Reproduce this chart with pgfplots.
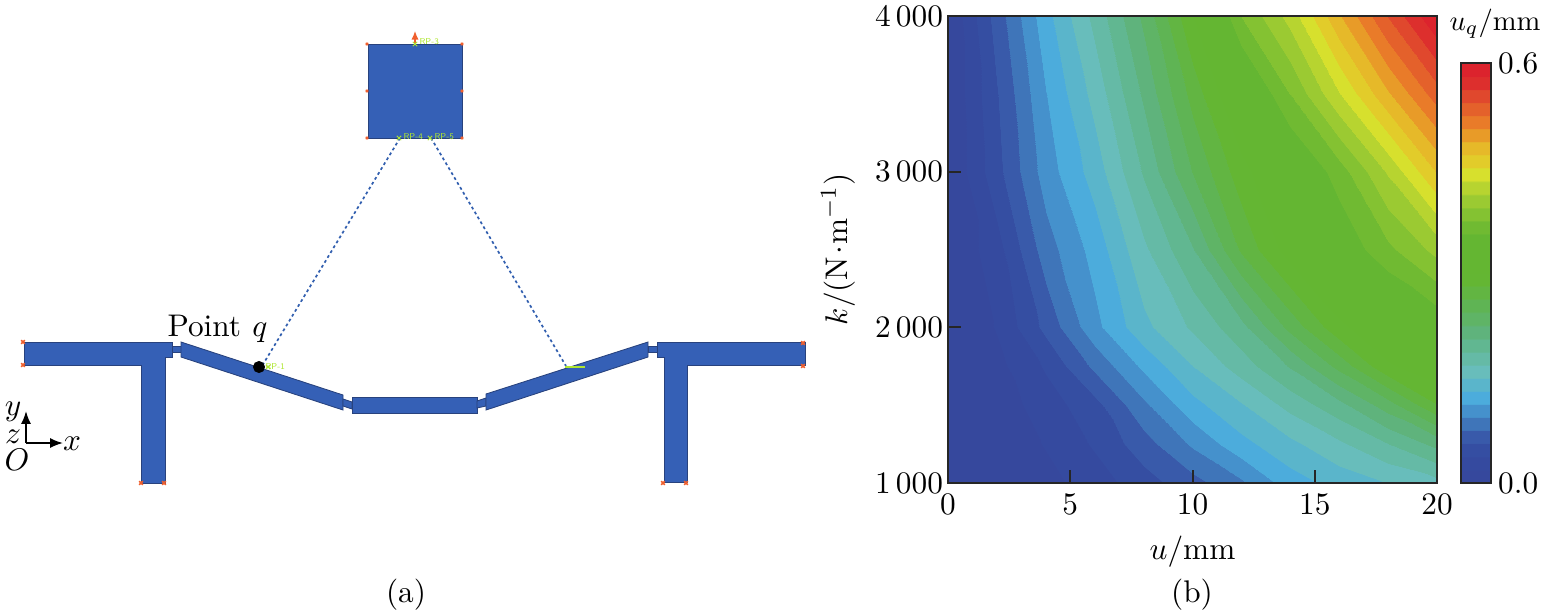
\documentclass[border=0pt]{standalone}
\usepackage{pgfplots}
\pgfplotsset{compat=1.18}
\usetikzlibrary{arrows.meta}
\pgfplotsset{colormap={bands}{
rgb255(0cm)=(54,72,157) rgb255(0.98cm)=(54,72,157)
rgb255(1cm)=(53,74,159) rgb255(1.98cm)=(53,74,159)
rgb255(2cm)=(53,78,162) rgb255(2.98cm)=(53,78,162)
rgb255(3cm)=(57,90,170) rgb255(3.98cm)=(57,90,170)
rgb255(4cm)=(63,117,185) rgb255(4.98cm)=(63,117,185)
rgb255(5cm)=(69,145,204) rgb255(5.98cm)=(69,145,204)
rgb255(6cm)=(76,172,220) rgb255(6.98cm)=(76,172,220)
rgb255(7cm)=(90,181,203) rgb255(7.98cm)=(90,181,203)
rgb255(8cm)=(104,189,187) rgb255(8.98cm)=(104,189,187)
rgb255(9cm)=(101,186,166) rgb255(9.98cm)=(101,186,166)
rgb255(10cm)=(97,183,145) rgb255(10.98cm)=(97,183,145)
rgb255(11cm)=(95,179,124) rgb255(11.98cm)=(95,179,124)
rgb255(12cm)=(95,180,102) rgb255(12.98cm)=(95,180,102)
rgb255(13cm)=(95,180,84) rgb255(13.98cm)=(95,180,84)
rgb255(14cm)=(98,181,66) rgb255(14.98cm)=(98,181,66)
rgb255(15cm)=(100,182,51) rgb255(15.98cm)=(100,182,51)
rgb255(16cm)=(100,182,50) rgb255(16.98cm)=(100,182,50)
rgb255(17cm)=(100,182,50) rgb255(17.98cm)=(100,182,50)
rgb255(18cm)=(100,182,50) rgb255(18.98cm)=(100,182,50)
rgb255(19cm)=(112,186,50) rgb255(19.98cm)=(112,186,50)
rgb255(20cm)=(132,194,50) rgb255(20.98cm)=(132,194,50)
rgb255(21cm)=(155,202,50) rgb255(21.98cm)=(155,202,50)
rgb255(22cm)=(183,212,48) rgb255(22.98cm)=(183,212,48)
rgb255(23cm)=(215,224,45) rgb255(23.98cm)=(215,224,45)
rgb255(24cm)=(226,204,42) rgb255(24.98cm)=(226,204,42)
rgb255(25cm)=(230,185,41) rgb255(25.98cm)=(230,185,41)
rgb255(26cm)=(232,155,40) rgb255(26.98cm)=(232,155,40)
rgb255(27cm)=(233,123,41) rgb255(27.98cm)=(233,123,41)
rgb255(28cm)=(228,97,43) rgb255(28.98cm)=(228,97,43)
rgb255(29cm)=(224,72,45) rgb255(29.98cm)=(224,72,45)
rgb255(30cm)=(221,47,45) rgb255(30.98cm)=(221,47,45)
rgb255(31cm)=(220,35,45) rgb255(32cm)=(220,35,45)
}}
\definecolor{partblue}{RGB}{53,96,182}
\definecolor{partedge}{RGB}{40,66,125}
\definecolor{wireblue}{RGB}{50,95,175}
\definecolor{bcorange}{RGB}{240,95,45}
\definecolor{rpgreen}{RGB}{175,230,50}
\newcommand{\lab}{\fontsize{10.95}{13}\selectfont}
\begin{document}
\begin{tikzpicture}[x=1pt,y=1pt]
\useasboundingbox (0,0) rectangle (542.5pt,214.9pt);
% schematic in image pixel coordinates
\begin{axis}[at={(0,0)},anchor=south west,scale only axis,width=542.5pt,height=214.9pt,
  xmin=0,xmax=1550,ymin=0,ymax=614,y dir=reverse,hide axis,clip=false]
\pgfplotsset{part/.style={draw=partedge,line width=0.3pt,fill=partblue}}
\addplot[part] coordinates {(24,342)(172,342)(172,357)(165,357)(165,483)(141,483)(141,365)(24,365)} --cycle;
\addplot[part] coordinates {(172,346)(181,346)(181,352)(172,352)} --cycle;
\addplot[part] coordinates {(181,342)(343,395)(343,410)(181,357)} --cycle;
\addplot[part] coordinates {(343,399)(352,402)(352,409)(343,406)} --cycle;
\addplot[part] coordinates {(352,397)(477,397)(477,413)(352,413)} --cycle;
\addplot[part] coordinates {(477,401)(486,398)(486,406)(477,408)} --cycle;
\addplot[part] coordinates {(486,394)(648,342)(648,357)(486,410)} --cycle;
\addplot[part] coordinates {(648,346)(657,346)(657,352)(648,352)} --cycle;
\addplot[part] coordinates {(657,342)(805,342)(805,365)(687,365)(687,482)(664,482)(664,357)(657,357)} --cycle;
\addplot[part] coordinates {(368,44)(462,44)(462,138)(368,138)} --cycle;
\addplot[wireblue,line width=0.6pt,dash pattern=on 1pt off 1pt] coordinates {(400,138)(262,366)};
\addplot[wireblue,line width=0.6pt,dash pattern=on 1pt off 1pt] coordinates {(431,138)(566,366)};
\addplot[only marks,mark=x,mark size=0.9pt,bcorange,line width=0.6pt] coordinates {(23,342)(23,365)(141,483)(164,483)(663,483)(686,483)(803,343)(803,366)};
\addplot[only marks,mark=x,mark size=0.6pt,bcorange,line width=0.4pt] coordinates {(367,44)(462,44)(367,91)(462,91)(367,138)(462,138)};
\addplot[bcorange,line width=0.4pt,-{Latex[length=3pt,width=2.5pt]}] coordinates {(415,44)(415,31)};
\addplot[only marks,mark=x,mark size=1.1pt,rpgreen,line width=0.3pt] coordinates {(399,138)(430,138)(415,44)(268,367)};
\addplot[rpgreen,line width=0.9pt] coordinates {(565,367)(585,367)};
\node[rpgreen,font=\sffamily\fontsize{3}{3}\selectfont,anchor=west,inner sep=0pt] at (axis cs:403,137) {RP-4};
\node[rpgreen,font=\sffamily\fontsize{3}{3}\selectfont,anchor=west,inner sep=0pt] at (axis cs:434,137) {RP-5};
\node[rpgreen,font=\sffamily\fontsize{3}{3}\selectfont,anchor=west,inner sep=0pt] at (axis cs:419,42) {RP-3};
\node[rpgreen,font=\sffamily\fontsize{3}{3}\selectfont,anchor=west,inner sep=0pt] at (axis cs:265,367) {RP-1};
\addplot[only marks,mark=*,mark size=1.9pt,black] coordinates {(259,367)};
\addplot[black,line width=0.6pt,-{Latex[length=4.5pt,width=3.5pt]}] coordinates {(26,443)(63,443)};
\addplot[black,line width=0.6pt,-{Latex[length=4.5pt,width=3.5pt]}] coordinates {(26,443)(26,411)};
\node[font=\lab,anchor=base west,inner sep=0pt] at (axis cs:167,336) {Point};
\node[font=\lab,anchor=base,inner sep=0pt] at (axis cs:260,336) {$q$};
\node[font=\lab] at (axis cs:13,412) {$y$};
\node[font=\lab] at (axis cs:13,437) {$z$};
\node[font=\lab] at (axis cs:17,460) {$O$};
\node[font=\lab] at (axis cs:72,444) {$x$};
\node[font=\lab] at (axis cs:406,595) {(a)};
\node[font=\lab] at (axis cs:1192,595) {(b)};
\node at (axis cs:1495,24) {$u_q$/mm};
\end{axis}
% contour map
\begin{axis}[at={(331.8pt,45.85pt)},anchor=south west,scale only axis,width=171.15pt,height=163.45pt,
  xmin=0,xmax=20,ymin=1000,ymax=4000,
  xtick={0,5,10,15,20},ytick={1000,2000,3000,4000},
  yticklabels={$1\,000$,$2\,000$,$3\,000$,$4\,000$},
  xtick pos=bottom,ytick pos=left,tick align=inside,major tick length=4.5pt,
  axis on top,axis line style={line width=0.85pt,color=black!85},tick style={line width=0.7pt,color=black!85},
  tick label style={font=\lab},
  xlabel={$u$/mm},ylabel={$k$/(N\hspace{0.6pt}$\cdot$\hspace{0.6pt}m$^{-1}$)},
  label style={font=\lab},
  xlabel style={at={(axis description cs:0.5,0)},anchor=north,yshift=-15pt},
  ylabel style={at={(axis description cs:0,0.5)},anchor=south,yshift=29pt},
  xticklabel style={yshift=-0.3pt},
  yticklabel style={xshift=1.75pt},
  colormap name=bands,point meta min=0,point meta max=0.6,
  colorbar,
  colorbar style={at={(1.049,0)},anchor=south west,scale only axis,width=10.5pt,height=147pt,
    ytick={0,0.6},yticklabels={$0.0$,$0.6$},ytick pos=right,yticklabel pos=right,
    major tick length=0pt,axis line style={line width=0.8pt,color=black!85},
    yticklabel style={xshift=-1pt,font=\lab}}]
\addplot[surf,shader=interp,mesh/cols=11,point meta=explicit] table[meta=z] {
x y z
0 1000 0
2 1000 .003
4 1000 .012
6 1000 .028
8 1000 .048
10 1000 .068
12 1000 .09
14 1000 .122
16 1000 .138
18 1000 .15
20 1000 .162
0 1250 0
2 1250 .005
4 1250 .02
6 1250 .04
8 1250 .067
10 1250 .097
12 1250 .125
14 1250 .145
16 1250 .165
18 1250 .187
20 1250 .212
0 1500 0
2 1500 .008
4 1500 .028
6 1500 .05
8 1500 .09
10 1500 .125
12 1500 .148
14 1500 .175
16 1500 .2
18 1500 .235
20 1500 .28
0 1750 0
2 1750 .013
4 1750 .04
6 1750 .08
8 1750 .117
10 1750 .15
12 1750 .178
14 1750 .208
16 1750 .25
18 1750 .297
20 1750 .315
0 2000 0
2 2000 .02
4 2000 .062
6 2000 .107
8 2000 .145
10 2000 .172
12 2000 .20
14 2000 .25
16 2000 .295
18 2000 .32
20 2000 .34
0 2500 0
2 2500 .03
4 2500 .085
6 2500 .12
8 2500 .165
10 2500 .205
12 2500 .265
14 2500 .31
16 2500 .34
18 2500 .37
20 2500 .40
0 3000 0
2 3000 .05
4 3000 .103
6 3000 .14
8 3000 .19
10 3000 .245
12 3000 .292
14 3000 .33
16 3000 .365
18 3000 .415
20 3000 .47
0 3500 0
2 3500 .055
4 3500 .112
6 3500 .157
8 3500 .21
10 3500 .27
12 3500 .325
14 3500 .375
16 3500 .43
18 3500 .485
20 3500 .535
0 4000 0
2 4000 .065
4 4000 .125
6 4000 .175
8 4000 .23
10 4000 .30
12 4000 .375
14 4000 .42
16 4000 .485
18 4000 .545
20 4000 .6
};
\end{axis}
\end{tikzpicture}
\end{document}
